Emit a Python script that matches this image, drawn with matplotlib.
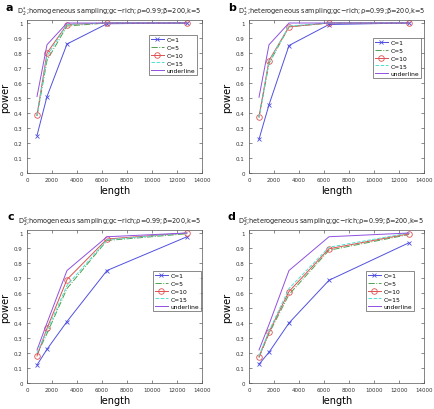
import numpy as np
import matplotlib.pyplot as plt

length = [800, 1600, 3200, 6400, 12800]
series_names = ['C=1', 'C=5', 'C=10', 'C=15', 'underline']

# panel a: D2* homogeneous
a_c1 = [0.25, 0.51, 0.86, 0.995, 1.0]
a_c5 = [0.38, 0.75, 0.98, 1.0, 1.0]
a_c10 = [0.385, 0.80, 0.99, 1.0, 1.0]
a_c15 = [0.38, 0.78, 0.99, 1.0, 1.0]
a_under = [0.51, 0.855, 1.0, 1.0, 1.0]

# panel b: D2* heterogeneous
b_c1 = [0.225, 0.455, 0.85, 0.99, 1.0]
b_c5 = [0.37, 0.73, 0.975, 1.0, 1.0]
b_c10 = [0.375, 0.75, 0.975, 1.0, 1.0]
b_c15 = [0.37, 0.74, 0.98, 1.0, 1.0]
b_under = [0.505, 0.855, 1.0, 1.0, 1.0]

# panel c: D2S homogeneous
c_c1 = [0.12, 0.225, 0.41, 0.75, 0.975]
c_c5 = [0.19, 0.33, 0.63, 0.95, 0.995]
c_c10 = [0.18, 0.365, 0.69, 0.96, 1.0]
c_c15 = [0.20, 0.35, 0.65, 0.955, 1.0]
c_under = [0.22, 0.40, 0.75, 0.975, 1.0]

# panel d: D2S heterogeneous
d_c1 = [0.125, 0.205, 0.40, 0.685, 0.935]
d_c5 = [0.17, 0.33, 0.59, 0.885, 0.99]
d_c10 = [0.175, 0.34, 0.61, 0.895, 0.995]
d_c15 = [0.18, 0.345, 0.63, 0.905, 1.0]
d_under = [0.22, 0.39, 0.75, 0.975, 1.0]

panels = [
    ('a', r'D$_2^*$;homogeneous sampling;gc$-$rich;ρ=0.99;β=200,k=5', [a_c1, a_c5, a_c10, a_c15, a_under]),
    ('b', r'D$_2^*$;heterogeneous sampling;gc$-$rich;ρ=0.99;β=200,k=5', [b_c1, b_c5, b_c10, b_c15, b_under]),
    ('c', r'D$_2^S$;homogeneous sampling;gc$-$rich;ρ=0.99;β=200,k=5', [c_c1, c_c5, c_c10, c_c15, c_under]),
    ('d', r'D$_2^S$;heterogeneous sampling;gc$-$rich;ρ=0.99;β=200,k=5', [d_c1, d_c5, d_c10, d_c15, d_under]),
]

styles = [
    dict(color='#5050e0', ls='-', marker='x', ms=2.5, mew=0.6),
    dict(color='#50a050', ls='-.', marker=None),
    dict(color='#e05050', ls='-', marker='o', ms=4, mfc='none', mew=0.6),
    dict(color='#50e0d0', ls='--', marker=None),
    dict(color='#9050e0', ls='-', marker=None),
]

fig = plt.figure(figsize=(4.34, 4.10), dpi=100)
W, H = 434.0, 410.0
boxes = [(27, 21), (249, 21), (27, 231), (249, 231)]
leg_pos = [(149, 36), (373, 39), (153, 272), (366, 272)]
lab_pos = [(5, 3), (228, 3), (8, 212), (228, 212)]

for k, (lab, title, data) in enumerate(panels):
    x0, y0 = boxes[k]
    ax = fig.add_axes([x0 / W, 1 - (y0 + 153) / H, 175 / W, 153 / H])
    for vals, name, st in zip(data, series_names, styles):
        ax.plot(length, vals, label=name, lw=0.7, **st)
    ax.set_xlim(0, 14000)
    ax.set_ylim(0, 1.02)
    ax.set_xticks(np.arange(0, 14001, 2000))
    ax.set_yticks(np.arange(0, 1.01, 0.1))
    ax.set_yticklabels(['0', '0.1', '0.2', '0.3', '0.4', '0.5', '0.6', '0.7', '0.8', '0.9', '1'])
    ax.tick_params(direction='in', labelsize=4.0, length=2, width=0.4, top=True, right=True,
                   colors='#333333', pad=3)
    for s in ax.spines.values():
        s.set_linewidth(0.5)
        s.set_color('#555555')
    ax.set_xlabel('length', fontsize=7, labelpad=2)
    ax.set_ylabel('power', fontsize=7, labelpad=3)
    t = ax.set_title(title, fontsize=4.7, pad=5, color='#222222')
    t.set_x(0.47)
    fig.text(lab_pos[k][0] / W, 1 - lab_pos[k][1] / H, lab, fontsize=8, fontweight='bold', va='top')
    lx, ly = leg_pos[k]
    leg = ax.legend(loc='upper left', bbox_to_anchor=(lx / W, 1 - ly / H), bbox_transform=fig.transFigure,
                    fontsize=4.3, frameon=True, fancybox=False, edgecolor='#333333', handlelength=2.2,
                    borderpad=0.3, labelspacing=0.45, handletextpad=0.4, borderaxespad=0)
    leg.get_frame().set_linewidth(0.5)

fig.savefig('out.png', dpi=100)
